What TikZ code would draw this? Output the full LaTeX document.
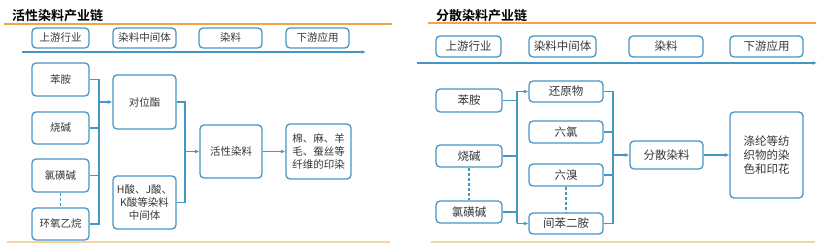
\documentclass[tikz,border=0pt]{standalone}
\usepackage{fontspec}
\setmainfont{Noto Sans CJK SC}
\newfontfamily\titlefont{Noto Sans CJK SC Bold}
\usetikzlibrary{arrows.meta,calc}
\definecolor{boxblue}{RGB}{70,150,196}
\definecolor{topor}{RGB}{240,165,70}
\definecolor{botor}{RGB}{245,212,160}
\definecolor{txt}{RGB}{55,55,55}
\tikzset{
  bx/.style={draw=boxblue, line width=1.3pt, rounded corners=4pt, fill=white, text=txt, align=center, inner sep=1pt},
  lbx/.style={bx, font=\fontsize{10.5}{13.3}\selectfont},
  rbx/.style={bx, font=\fontsize{11.5}{14}\selectfont},
  conn/.style={draw=boxblue, line width=1.1pt},
  arr/.style={conn, -{Latex[length=4.5pt,width=4pt]}},
  dsh/.style={draw=boxblue, line width=1.1pt, dashed, dash pattern=on 3pt off 2pt},
  ttl/.style={anchor=west, font=\titlefont\fontsize{13}{14}\selectfont, text=black, inner sep=0pt},
}
\begin{document}
\begin{tikzpicture}[x=1pt,y=-1pt]
\useasboundingbox (0,0) rectangle (831,245);
% ---------------- left panel ----------------
\node[ttl] (lt) at (12,15.5) {活性染料产业链};
\draw[topor, line width=1.3pt] (4,24) -- (392,24);
\draw[botor, line width=2pt] (7,242) -- (390,242);
\node[lbx, minimum width=57pt, minimum height=20pt] (lh1) at (60.5,38) {上游行业};
\node[lbx, minimum width=63pt, minimum height=20pt] (lh2) at (144.5,38) {染料中间体};
\node[lbx, minimum width=63pt, minimum height=20pt] (lh3) at (230.5,38) {染料};
\node[lbx, minimum width=63pt, minimum height=20pt] (lh4) at (317.5,38) {下游应用};
\coordinate (la0) at (22,52);
\coordinate (la1) at (366,52);
\draw[arr] (la0) -- (la1);

\node[lbx, minimum width=57pt, minimum height=33pt] (a1) at (60.5,79.5) {苯胺};
\node[lbx, minimum width=57pt, minimum height=32pt] (a2) at (60.5,128) {烧碱};
\node[lbx, minimum width=57pt, minimum height=33pt] (a3) at (60.5,175.5) {氯磺碱};
\node[lbx, minimum width=57pt, minimum height=32pt] (a4) at (60.5,224) {环氧乙烷};
\node[lbx, minimum width=63pt, minimum height=54pt] (b1) at (144.5,102) {对位酯};
\node[lbx, minimum width=63pt, minimum height=53pt] (b2) at (144.5,202.5) {H酸、J酸、\\K酸等染料\\中间体};
\node[lbx, minimum width=62pt, minimum height=53pt] (c1) at (231,151.5) {活性染料};
\node[lbx, minimum width=65pt, minimum height=55pt] (d1) at (318.5,151.5) {棉、麻、羊\\毛、蚕丝等\\纤维的印染};
\coordinate (lbus) at (99,0);
\coordinate (rbus) at (185,0);
\draw[conn] (a1.east) -| (lbus |- a4.east) -- (a4.east);
\draw[conn] (a2.east) -- (lbus |- a2.east);
\draw[conn] (a3.east) -- (lbus |- a3.east);
\draw[arr] (lbus |- b1.west) -- (b1.west);
\draw[conn] (b1.east) -| (rbus |- b2.east) -- (b2.east);
\draw[arr] (rbus |- c1.west) -- (c1.west);
\draw[arr] (c1.east) -- (d1.west);
\draw[dsh] (a3.south) -- (a4.north);

% ---------------- right panel ----------------
\node[ttl] (rt) at (436,15.5) {分散染料产业链};
\draw[topor, line width=1.3pt] (428,23) -- (816,23);
\draw[botor, line width=2pt] (431,242) -- (815,242);
\node[rbx, minimum width=65pt, minimum height=21pt] (rh1) at (468.5,46.5) {上游行业};
\node[rbx, minimum width=67pt, minimum height=21pt] (rh2) at (562.5,46.5) {染料中间体};
\node[rbx, minimum width=74pt, minimum height=21pt] (rh3) at (666,46.5) {染料};
\node[rbx, minimum width=73pt, minimum height=21pt] (rh4) at (766.5,46.5) {下游应用};
\coordinate (ra0) at (417,63);
\coordinate (ra1) at (817,63);
\draw[arr] (ra0) -- (ra1);

\node[rbx, minimum width=66pt, minimum height=23pt] (e1) at (469,100.5) {苯胺};
\node[rbx, minimum width=66pt, minimum height=22pt] (e2) at (469,156) {烧碱};
\node[rbx, minimum width=66pt, minimum height=22pt] (e3) at (469,212) {氯磺碱};
\node[rbx, minimum width=74pt, minimum height=21pt] (f1) at (566,91.5) {还原物};
\node[rbx, minimum width=74pt, minimum height=22pt] (f2) at (566,132) {六氯};
\node[rbx, minimum width=74pt, minimum height=22pt] (f3) at (566,175) {六溴};
\node[rbx, minimum width=74pt, minimum height=21pt] (f4) at (566,223.5) {间苯二胺};
\node[rbx, minimum width=73pt, minimum height=28pt] (g1) at (666.5,155) {分散染料};
\node[rbx, minimum width=73pt, minimum height=86pt] (k1) at (766.5,155) {涤纶等纺\\织物的染\\色和印花};
\coordinate (rb1) at (517,0);
\coordinate (rb2) at (613,0);
\draw[conn] (rb1 |- f1.west) -- (rb1 |- f4.west);
\draw[arr] (rb1 |- f1.west) -- (f1.west);
\draw[arr] (rb1 |- f4.west) -- (f4.west);
\draw[conn] (e1.east) -- (rb1 |- e1.east);
\draw[conn] (e2.east) -- (rb1 |- e2.east);
\draw[conn] (e3.east) -- (rb1 |- e3.east);
\draw[conn] (f1.east) -| (rb2 |- f4.east) -- (f4.east);
\draw[conn] (f2.east) -- (rb2 |- f2.east);
\draw[conn] (f3.east) -- (rb2 |- f3.east);
\draw[arr] (rb2 |- g1.west) -- (g1.west);
\draw[arr] (g1.east) -- (k1.west);
\draw[dsh] (e2.south) -- (e3.north);
\draw[dsh] (f3.south) -- (f4.north);
\end{tikzpicture}
\end{document}
